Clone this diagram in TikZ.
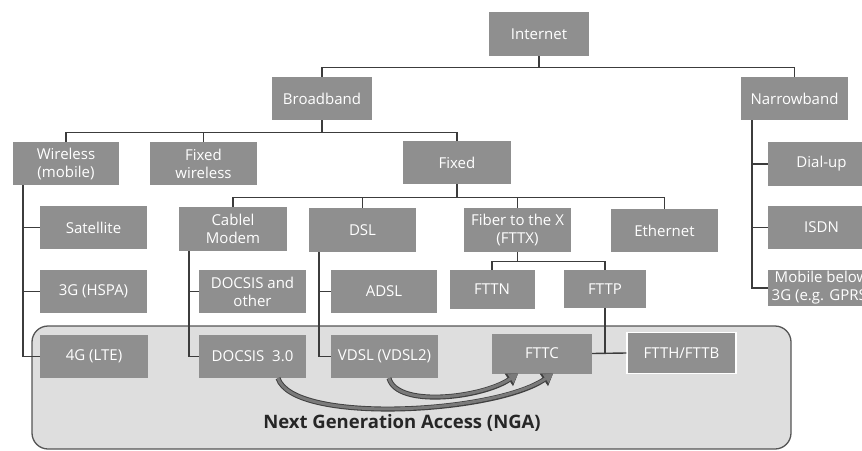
\documentclass[tikz,border=0pt]{standalone}
\usepackage{fontspec}
\setmainfont{Open Sans}
\usetikzlibrary{arrows.meta}

\definecolor{boxgray}{HTML}{8F8F8F}
\definecolor{linegray}{HTML}{3C3C3C}
\definecolor{ngafill}{HTML}{DEDEDE}
\definecolor{ngadraw}{HTML}{555555}

\tikzstyle{netBox} = [rectangle, minimum width=107pt, minimum height=43pt, inner sep=0pt, text centered, align=center, fill=boxgray, text=white, font=\fontsize{15}{18}\selectfont]
\tikzstyle{connector} = [draw=linegray, line width=1.4pt]
\tikzstyle{ngaBox} = [draw=ngadraw, line width=1.3pt, fill=ngafill, rounded corners=16pt]
\tikzstyle{ngaArrow} = [draw=boxgray!85!black, line width=3pt, -{Triangle[length=9pt,width=11pt,line width=0.6pt]},
  preaction={draw=black!75, line width=5pt, -{Triangle[length=11pt,width=15pt,line width=0.6pt]}}]

\begin{document}
\begin{tikzpicture}[x=1pt,y=-1pt]
    \useasboundingbox (0,0) rectangle (862,450);

    % the NGA area first, so that it stays behind
    \draw[ngaBox] (32,326) rectangle (791,449);
    \node (ngalabel) at (402,423) [text=black!85, font=\fontsize{18.5}{20}\selectfont\bfseries] {Next Generation Access (NGA)};

    \node (internet)[netBox, minimum width=100pt, minimum height=44pt] at (539,34) {Internet};
    \node (broadband)[netBox, minimum width=100pt] at (322,98.5) {Broadband};
    \node (narrowband)[netBox] at (794.5,98.5) {Narrowband};

    \node (wireless)[netBox, minimum width=106pt] at (66,163.5) {Wireless\\(mobile)};
    \node (fixedwl)[netBox] at (203.5,163.5) {Fixed\\wireless};
    \node (fixed)[netBox, minimum width=108pt] at (457,162.5) {Fixed};

    \node (satellite)[netBox] at (93.5,227.5) {Satellite};
    \node (hspa)[netBox] at (93.5,291.5) {3G (HSPA)};
    \node (lte)[netBox, minimum width=108pt] at (94,356.5) {4G (LTE)};

    \node (cablemodem)[netBox, minimum width=108pt, minimum height=44pt] at (233,229) {Cablel\\Modem};
    \node (docsisother)[netBox] at (252.5,291.5) {DOCSIS and\\other};
    \node (docsis3)[netBox] at (252.5,356.5) {DOCSIS\ \ 3.0};

    \node (dsl)[netBox, minimum height=44pt] at (362.5,230) {DSL};
    \node (adsl)[netBox, minimum width=106pt] at (384,291.5) {ADSL};
    \node (vdsl)[netBox] at (384.5,356.5) {VDSL (VDSL2)};

    \node (fttx)[netBox, minimum height=44pt] at (517.5,230) {Fiber to the X\\(FTTX)};
    \node (fttn)[netBox, minimum width=85pt, minimum height=39pt] at (492,289.5) {FTTN};
    \node (fttp)[netBox, minimum width=82pt, minimum height=38pt] at (605,289) {FTTP};
    \node (fttc)[netBox, minimum width=100pt, minimum height=40pt] at (542,353.5) {FTTC};
    \node (ftth)[netBox, minimum width=109pt, minimum height=41pt, draw=white, line width=1.5pt] at (681.5,353) {FTTH/FTTB};

    \node (ethernet)[netBox] at (664.5,230.5) {Ethernet};

    \node (dialup)[netBox, minimum height=44pt] at (821.5,164) {Dial-up};
    \node (isdn)[netBox] at (821.5,227.5) {ISDN};
    \node (mobile)[netBox, minimum height=36pt] at (821.5,288) {Mobile below\\3G (e.g. GPRS)};

    % tree
    \draw[connector] (internet.south) -- ++(0,11) -| (broadband.north);
    \draw[connector] (internet.south) -- ++(0,11) -| (narrowband.north);
    \draw[connector] (broadband.south) -- ++(0,12) -| (wireless.north);
    \draw[connector] (broadband.south) -- ++(0,12) -| (fixedwl.north);
    \draw[connector] (broadband.south) -- ++(0,12) -| (fixed.north);
    \draw[connector] (fixed.south) -- ++(0,13) -| (cablemodem.north);
    \draw[connector] (fixed.south) -- ++(0,13) -| (dsl.north);
    \draw[connector] (fixed.south) -- ++(0,13) -| (fttx.north);
    \draw[connector] (fixed.south) -- ++(0,13) -| (ethernet.north);
    \draw[connector] (fttx.south) -- ++(0,9) -| (fttn.north);
    \draw[connector] (fttx.south) -- ++(0,9) -| (fttp.north);

    % side stems
    \draw[connector] ([xshift=10pt]wireless.south west) |- (satellite.west);
    \draw[connector] ([xshift=10pt]wireless.south west) |- (hspa.west);
    \draw[connector] ([xshift=10pt]wireless.south west) |- (lte.west);
    \draw[connector] ([xshift=10pt]cablemodem.south west) |- (docsisother.west);
    \draw[connector] ([xshift=10pt]cablemodem.south west) |- (docsis3.west);
    \draw[connector] ([xshift=10pt]dsl.south west) |- (adsl.west);
    \draw[connector] ([xshift=10pt]dsl.south west) |- (vdsl.west);
    \draw[connector] ([xshift=11pt]narrowband.south west) |- (dialup.west);
    \draw[connector] ([xshift=11pt]narrowband.south west) |- (isdn.west);
    \draw[connector] ([xshift=11pt]narrowband.south west) |- (mobile.west);
    \draw[connector] (fttc.east) -- (ftth.west);
    \draw[connector] (fttp.south) -- (fttp.south |- ftth.west);

    % upgrade arrows
    \draw[ngaArrow] ([xshift=25.5pt]docsis3.south) .. controls +(15,46) and +(-60,40) .. ([xshift=11pt]fttc.south);
    \draw[ngaArrow] ([xshift=4.5pt]vdsl.south) .. controls +(8,30) and +(-36,24) .. ([xshift=-24pt]fttc.south);
  \end{tikzpicture}
\end{document}
